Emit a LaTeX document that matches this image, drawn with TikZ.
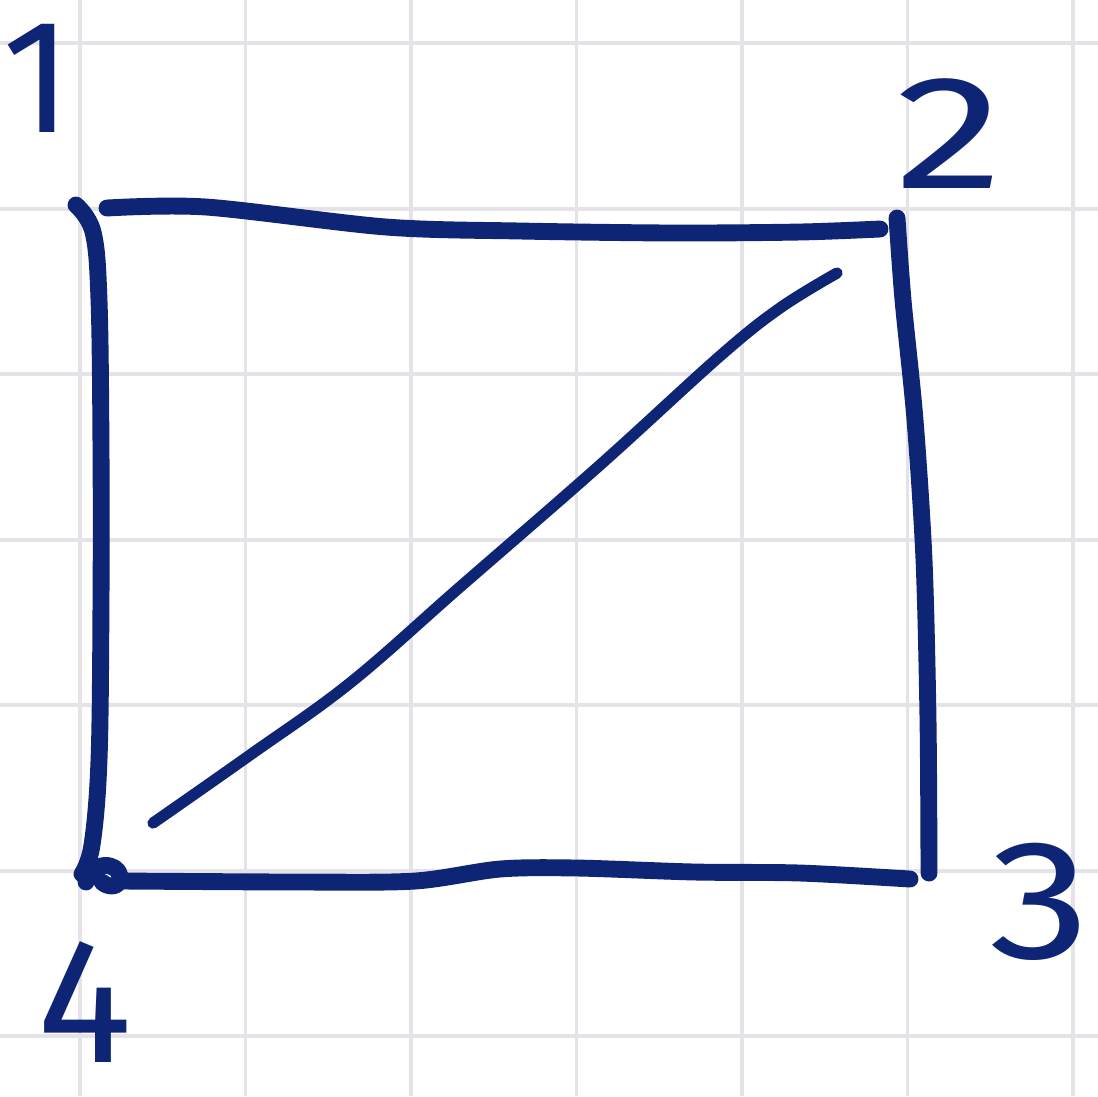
\documentclass[tikz,border=0pt]{standalone}
\usepackage{fontspec}
\setsansfont{Fira Sans}
\usetikzlibrary{calc}
\definecolor{ink}{RGB}{14,36,116}
\definecolor{gridc}{RGB}{229,227,231}
\begin{document}
\begin{tikzpicture}[x=0.01cm,y=-0.01cm,
  gridline/.style={draw=gridc,line width=1.1pt},
  edge/.style={draw=ink,line width=4.8pt,line cap=round,line join=round},
  diag/.style={draw=ink,line width=3.2pt,line cap=round,line join=round},
  lab/.style={text=ink,font=\sffamily\fontsize{46}{46}\selectfont,inner sep=0pt}]
\fill[white] (0,0) rectangle (1098,1096);
\useasboundingbox (0,0) rectangle (1098,1096);
% grid
\foreach \g in {80,245.5,411,576.5,742,907.5,1073}{
  \draw[gridline] (\g,0) -- (\g,1096);}
\foreach \g in {43,209,374,540,705,871,1036}{
  \draw[gridline] (0,\g) -- (1098,\g);}
% vertices (stroke end points)
\coordinate (v1) at (88,212);
\coordinate (v2) at (893,224);
\coordinate (v3) at (922,876);
\coordinate (v4) at (92,878);
% labels
\node[lab] (l1) at (38,78) {1};
\node[lab,xscale=1.35] (l2) at (950,134) {2};
\node[lab,xscale=1.25,yscale=1.05] (l3) at (1040,902) {3};
\node[lab,scale=1.1] (l4) at (85,1002) {4};
% edges
\draw[edge] plot[smooth,tension=0.5] coordinates {($(v1)+(19,-4)$) (206,207) (386,227) (520,231) (673,233) (800,232) ($(v2)+(-13,5)$)};
\draw[edge] plot[smooth,tension=0.5] coordinates {($(v2)+(4,-6)$) (903,300) (915,420) (924,560) (928,720) ($(v3)+(7,-3)$)};
\draw[edge] plot[smooth,tension=0.5] coordinates {($(v3)+(-12,3)$) (800,873) (695,872) (577,868) (500,869) (415,881) (300,882) (125,881)};
\draw[edge] plot[smooth,tension=0.6] coordinates {($(v1)+(-12,-7)$) (93,232) (99,300) (101,450) (101,600) (99,760) (92,845) ($(v4)+(-10,-4)$)};
\draw[edge] ($(v4)+(-6,4)$) .. controls (92,860) and (118,862) .. (120,876) .. controls (121,888) and (108,888) .. (102,882);
\draw[diag] plot[smooth,tension=0.6] coordinates {($(v2)+(-56,49)$) (780,308) (720,356) (600,465) (460,587) (350,683) (250,755) ($(v4)+(61,-55)$)};
\end{tikzpicture}
\end{document}
